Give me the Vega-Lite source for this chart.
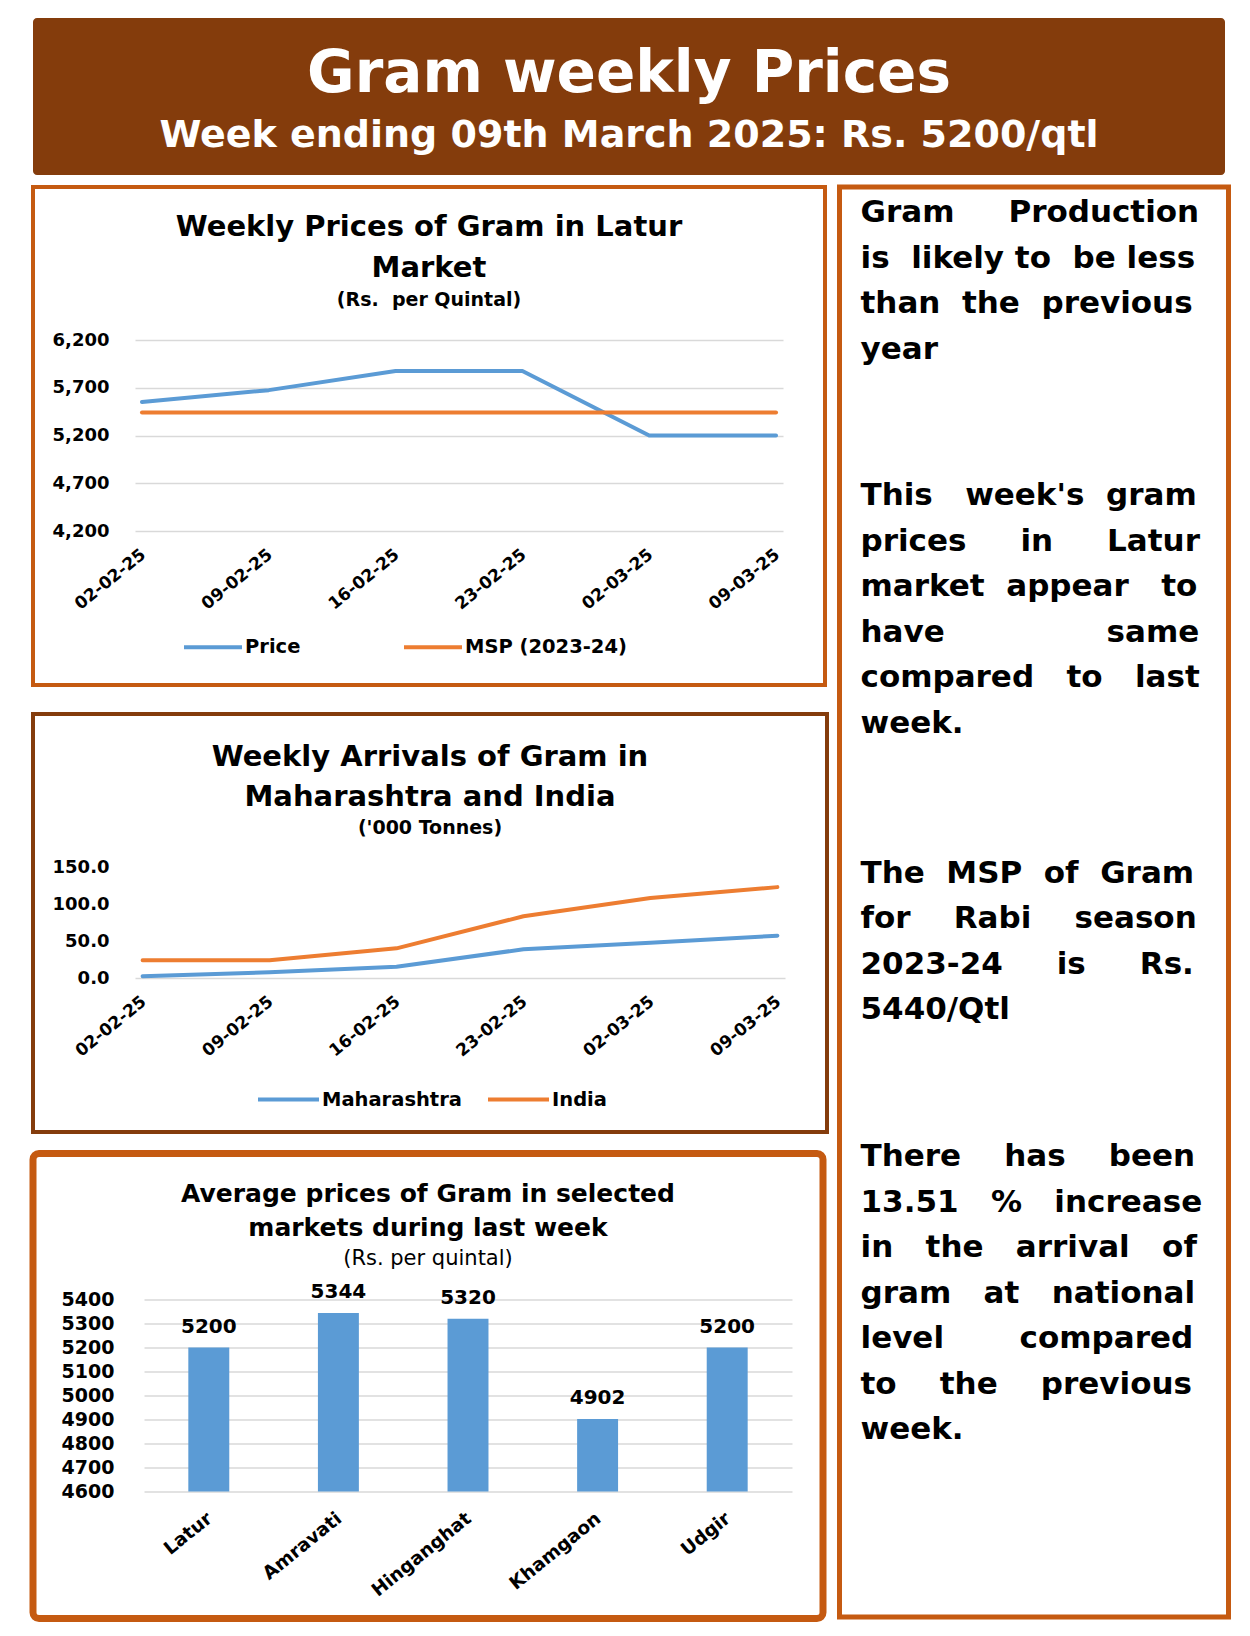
{
  "$schema": "https://vega.github.io/schema/vega-lite/v6.json",
  "background": "white",
  "padding": {"left": 29, "top": 18, "right": 0, "bottom": 0},
  "spacing": 9,
  "resolve": {"scale": {"x": "independent", "y": "independent", "color": "independent"}, "legend": {"color": "independent"}},
  "config": {
    "font": "DejaVu Sans",
    "view": {"stroke": null},
    "axis": {"labelFont": "DejaVu Sans", "labelFontWeight": "bold", "labelColor": "#000000", "domain": false, "ticks": false, "tickSize": 0, "gridColor": "#D9D9D9", "gridWidth": 1.5, "labelOverlap": false, "labelFlush": false},
    "legend": {"orient": "none", "direction": "horizontal", "symbolType": "stroke", "symbolSize": 3364, "symbolStrokeWidth": 4, "labelFont": "DejaVu Sans", "labelFontWeight": "bold", "labelFontSize": 19.5, "labelColor": "#000000", "labelOffset": 1, "padding": 0, "labelLimit": 400},
    "title": {"font": "DejaVu Sans", "fontWeight": "bold", "color": "#000000", "anchor": "middle", "frame": "group", "subtitleFont": "DejaVu Sans", "subtitleColor": "#000000"}
  },
  "vconcat": [
    {
      "width": 1192,
      "height": 157,
      "view": {"fill": "#843C0C", "stroke": null, "cornerRadius": 4},
      "data": {"values": [
        {"part": "title", "text": "Gram weekly Prices"},
        {"part": "subtitle", "text": "Week ending 09th March 2025: Rs. 5200/qtl"}
      ]},
      "encoding": {
        "text": {"field": "text", "type": "nominal"},
        "y": {"field": "part", "type": "nominal", "sort": ["title", "subtitle"], "scale": {"type": "point", "range": [74, 129], "padding": 0}, "axis": null}
      },
      "layer": [
        {"transform": [{"filter": "datum.part === 'title'"}], "mark": {"type": "text", "fontSize": 58, "fontWeight": "bold", "color": "white", "align": "center", "baseline": "alphabetic"}},
        {"transform": [{"filter": "datum.part === 'subtitle'"}], "mark": {"type": "text", "fontSize": 38, "fontWeight": "bold", "color": "white", "align": "center", "baseline": "alphabetic"}}
      ]
    },
    {
      "resolve": {"scale": {"x": "independent", "y": "independent", "color": "independent"}, "legend": {"color": "independent"}},
      "hconcat": [
        {
          "resolve": {"scale": {"x": "independent", "y": "independent", "color": "independent"}, "legend": {"color": "independent"}},
          "vconcat": [
            {
              "resolve": {"scale": {"x": "independent", "y": "independent", "color": "independent"}, "legend": {"color": "independent"}},
              "vconcat": [
                {
                  "width": 792,
                  "height": 498,
                  "view": {"stroke": "#C55A11", "strokeWidth": 4, "fill": "white"},
                  "title": {"text": ["Weekly Prices of Gram in Latur", "Market"], "subtitle": "(Rs.\u00a0 per Quintal)", "fontSize": 29, "lineHeight": 41, "subtitleFontSize": 19, "subtitleFontWeight": "bold", "subtitlePadding": 8, "offset": -123},
                  "data": {"values": [
                    {"week": "02-02-25", "series": "Price", "value": 5550},
                    {"week": "09-02-25", "series": "Price", "value": 5675},
                    {"week": "16-02-25", "series": "Price", "value": 5875},
                    {"week": "23-02-25", "series": "Price", "value": 5875},
                    {"week": "02-03-25", "series": "Price", "value": 5200},
                    {"week": "09-03-25", "series": "Price", "value": 5200},
                    {"week": "02-02-25", "series": "MSP (2023-24)", "value": 5440},
                    {"week": "09-02-25", "series": "MSP (2023-24)", "value": 5440},
                    {"week": "16-02-25", "series": "MSP (2023-24)", "value": 5440},
                    {"week": "23-02-25", "series": "MSP (2023-24)", "value": 5440},
                    {"week": "02-03-25", "series": "MSP (2023-24)", "value": 5440},
                    {"week": "09-03-25", "series": "MSP (2023-24)", "value": 5440}
                  ]},
                  "mark": {"type": "line", "strokeWidth": 4, "strokeCap": "round", "strokeJoin": "round"},
                  "encoding": {
                    "x": {"field": "week", "type": "ordinal", "sort": null, "scale": {"type": "point", "range": [102, 750], "padding": 0.055}, "axis": {"title": null, "offset": -154, "labelAngle": -39, "labelAlign": "right", "labelBaseline": "top", "labelPadding": 15, "labelOffset": -4, "labelFontSize": 17, "grid": false}},
                    "y": {"field": "value", "type": "quantitative", "scale": {"domain": [4200, 6200], "range": [344, 153], "nice": false, "zero": false}, "axis": {"title": null, "offset": -82, "labelPadding": 6, "values": [4200, 4700, 5200, 5700, 6200], "format": ",.0f", "labelFontSize": 18, "grid": true}},
                    "color": {"field": "series", "type": "nominal", "scale": {"domain": ["Price", "MSP (2023-24)"], "range": ["#5B9BD5", "#ED7D31"]}, "legend": {"title": null, "legendX": 149, "legendY": 429, "columnPadding": 95}}
                  }
                },
                {
                  "width": 794,
                  "height": 418,
                  "view": {"stroke": "#843C0C", "strokeWidth": 4, "fill": "white"},
                  "title": {"text": ["Weekly Arrivals of Gram in", "Maharashtra and India"], "subtitle": "('000 Tonnes)", "fontSize": 29, "lineHeight": 40, "subtitleFontSize": 19, "subtitleFontWeight": "bold", "subtitlePadding": 7, "offset": -124},
                  "data": {"values": [
                    {"week": "02-02-25", "region": "Maharashtra", "arrivals": 2.5},
                    {"week": "09-02-25", "region": "Maharashtra", "arrivals": 7.7},
                    {"week": "16-02-25", "region": "Maharashtra", "arrivals": 15.3},
                    {"week": "23-02-25", "region": "Maharashtra", "arrivals": 38.8},
                    {"week": "02-03-25", "region": "Maharashtra", "arrivals": 47.7},
                    {"week": "09-03-25", "region": "Maharashtra", "arrivals": 57.2},
                    {"week": "02-02-25", "region": "India", "arrivals": 23.9},
                    {"week": "09-02-25", "region": "India", "arrivals": 23.9},
                    {"week": "16-02-25", "region": "India", "arrivals": 40.1},
                    {"week": "23-02-25", "region": "India", "arrivals": 83.4},
                    {"week": "02-03-25", "region": "India", "arrivals": 108.2},
                    {"week": "09-03-25", "region": "India", "arrivals": 122.8}
                  ]},
                  "mark": {"type": "line", "strokeWidth": 4, "strokeCap": "round", "strokeJoin": "round"},
                  "encoding": {
                    "x": {"field": "week", "type": "ordinal", "sort": null, "scale": {"type": "point", "range": [102, 752], "padding": 0.06}, "axis": {"title": null, "offset": -154, "domain": true, "domainColor": "#D9D9D9", "domainWidth": 1.5, "labelAngle": -39, "labelAlign": "right", "labelBaseline": "top", "labelPadding": 15, "labelOffset": -4, "labelFontSize": 17, "grid": false}},
                    "y": {"field": "arrivals", "type": "quantitative", "scale": {"domain": [0, 150], "range": [264, 153], "nice": false, "zero": false}, "axis": {"title": null, "offset": -82, "labelPadding": 6, "values": [0, 50, 100, 150], "format": ".1f", "labelFontSize": 18, "grid": false}},
                    "color": {"field": "region", "type": "nominal", "scale": {"domain": ["Maharashtra", "India"], "range": ["#5B9BD5", "#ED7D31"]}, "legend": {"title": null, "legendX": 223, "legendY": 353, "columnPadding": 18, "symbolSize": 3721}}
                  }
                }
              ],
              "spacing": 25
            },
            {
              "width": 790,
              "height": 465,
              "view": {"stroke": "#C55A11", "strokeWidth": 7, "cornerRadius": 6, "fill": "white"},
              "title": {"text": ["Average prices of Gram in selected", "markets during last week"], "subtitle": "(Rs. per quintal)", "fontSize": 25, "lineHeight": 34, "subtitleFontSize": 21, "subtitleFontWeight": "normal", "subtitlePadding": 7, "offset": -115},
              "data": {"values": [
                {"market": "Latur", "price": 5200},
                {"market": "Amravati", "price": 5344},
                {"market": "Hinganghat", "price": 5320},
                {"market": "Khamgaon", "price": 4902},
                {"market": "Udgir", "price": 5200}
              ]},
              "encoding": {
                "x": {"field": "market", "type": "nominal", "sort": null, "scale": {"type": "band", "range": [111, 759], "paddingInner": 0.684, "paddingOuter": 0.342}, "axis": {"title": null, "offset": -127, "labelAngle": -39, "labelAlign": "right", "labelBaseline": "top", "labelPadding": 17, "labelOffset": -5, "labelFontSize": 18.5, "grid": false}},
                "y": {"field": "price", "type": "quantitative", "scale": {"domain": [4600, 5400], "range": [338, 146], "nice": false, "zero": false}, "axis": {"title": null, "offset": -87, "labelPadding": 6, "values": [4600, 4700, 4800, 4900, 5000, 5100, 5200, 5300, 5400], "format": "d", "labelFontSize": 19, "grid": true}}
              },
              "layer": [
                {"mark": {"type": "bar", "color": "#5B9BD5"}, "encoding": {"y2": {"datum": 4600}}},
                {"mark": {"type": "text", "baseline": "alphabetic", "dy": -15, "fontSize": 20, "fontWeight": "bold", "color": "#000000"}, "encoding": {"text": {"field": "price", "type": "quantitative", "format": "d"}}}
              ]
            }
          ],
          "spacing": 15.5
        },
        {
          "width": 389,
          "height": 1430,
          "view": {"stroke": "#C55A11", "strokeWidth": 5, "fill": "white"},
          "data": {"values": [
            {"startLine": 0, "para": "Gram\u00a0\u00a0\u00a0\u00a0\u00a0Production\nis\u00a0\u00a0likely\u00a0to\u00a0\u00a0be\u00a0less\nthan\u00a0\u00a0the\u00a0\u00a0previous\nyear"},
            {"startLine": 6, "para": "This\u00a0\u00a0\u00a0week's\u00a0\u00a0gram\nprices\u00a0\u00a0\u00a0\u00a0\u00a0in\u00a0\u00a0\u00a0\u00a0\u00a0Latur\nmarket\u00a0\u00a0appear\u00a0\u00a0\u00a0to\nhave\u00a0\u00a0\u00a0\u00a0\u00a0\u00a0\u00a0\u00a0\u00a0\u00a0\u00a0\u00a0\u00a0\u00a0\u00a0same\ncompared\u00a0\u00a0\u00a0to\u00a0\u00a0\u00a0last\nweek."},
            {"startLine": 14, "para": "The\u00a0\u00a0MSP\u00a0\u00a0of\u00a0\u00a0Gram\nfor\u00a0\u00a0\u00a0\u00a0Rabi\u00a0\u00a0\u00a0\u00a0season\n2023-24\u00a0\u00a0\u00a0\u00a0\u00a0is\u00a0\u00a0\u00a0\u00a0\u00a0Rs.\n5440/Qtl"},
            {"startLine": 20, "para": "There\u00a0\u00a0\u00a0\u00a0has\u00a0\u00a0\u00a0\u00a0been\n13.51\u00a0\u00a0\u00a0%\u00a0\u00a0\u00a0increase\nin\u00a0\u00a0\u00a0the\u00a0\u00a0\u00a0arrival\u00a0\u00a0\u00a0of\ngram\u00a0\u00a0\u00a0at\u00a0\u00a0\u00a0national\nlevel\u00a0\u00a0\u00a0\u00a0\u00a0\u00a0\u00a0compared\nto\u00a0\u00a0\u00a0\u00a0the\u00a0\u00a0\u00a0\u00a0previous\nweek."}
          ]},
          "mark": {"type": "text", "lineBreak": "\n", "align": "left", "baseline": "alphabetic", "fontSize": 31, "lineHeight": 45.5, "fontWeight": "bold", "color": "#000000"},
          "encoding": {
            "text": {"field": "para", "type": "nominal"},
            "x": {"datum": 0, "type": "quantitative", "scale": {"domain": [0, 1], "range": [21, 389]}, "axis": null},
            "y": {"field": "startLine", "type": "quantitative", "scale": {"domain": [0, 20], "range": [35, 979], "nice": false, "zero": false}, "axis": null}
          }
        }
      ],
      "spacing": 7.5
    }
  ]
}
